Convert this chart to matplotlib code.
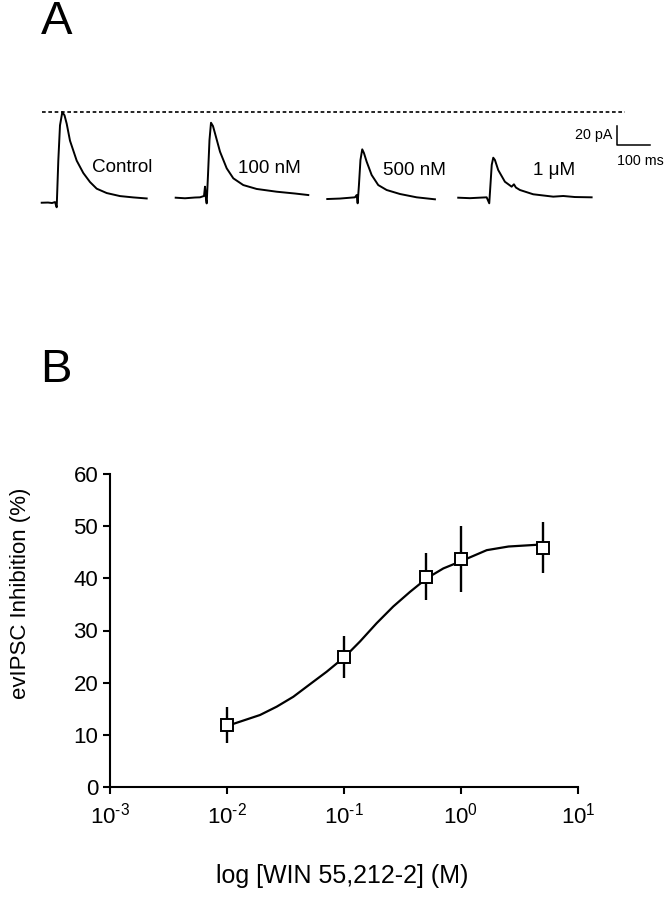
import numpy as np
import matplotlib
matplotlib.use("Agg")
import matplotlib.pyplot as plt
from matplotlib.ticker import NullLocator, FixedFormatter

plt.rcParams['font.family'] = ['Liberation Sans', 'DejaVu Sans']
plt.rcParams['mathtext.fontset'] = 'custom'
plt.rcParams['mathtext.rm'] = 'Liberation Sans'
plt.rcParams['mathtext.it'] = 'Liberation Sans:italic'
plt.rcParams['mathtext.bf'] = 'Liberation Sans:bold'

# panel A: evoked IPSC traces, time (ms) from trace start, current (pA) above baseline
labels_a = ['Control', '100 nM', '500 nM', '1 \u03bcM']
t_ctrl = [0, 19.1, 31.2, 40.3, 45.4, 50.3, 55.4, 62.4, 69.1, 75.7, 85.7, 106.0,
          126.0, 146.3, 166.6, 196.9, 237.2, 277.5, 318.1]
i_ctrl = [0, 0.2, -0.3, 0.7, -4.8, 44.5, 81.4, 95.4, 92.0, 83.2, 65.3, 44.3,
          31.3, 21.8, 14.8, 10.2, 7.0, 5.6, 4.5]
t_100 = [0, 28.2, 58.5, 73.6, 85.8, 88.8, 91.8, 93.9, 97.9, 102.4, 107.0, 113.0,
         119.1, 134.3, 154.6, 174.6, 204.8, 245.4, 306.0, 361.5, 401.8]
i_100 = [0, -0.6, 0.2, 0.4, 1.8, 11.6, -1.4, -6.0, 23.9, 60.7, 78.9, 75.4,
         67.8, 48.4, 30.9, 20.4, 13.3, 9.2, 6.3, 4.4, 2.8]
t_500 = [0, 38.5, 83.9, 89.1, 92.1, 96.0, 100.6, 106.0, 111.2, 119.4, 134.5,
         154.5, 180.0, 220.3, 270.9, 326.3]
i_500 = [0, 0.5, 1.8, 4.2, -4.5, 14.7, 41.1, 52.3, 48.4, 39.3, 25.3,
         14.7, 9.5, 5.3, 1.8, -0.3]
t_1u = [0, 35.5, 86.1, 94.0, 97.6, 101.5, 106.1, 111.2, 121.2, 141.4, 161.8,
        168.8, 174.8, 187.0, 227.2, 287.9, 318.2, 353.6, 404.2]
i_1u = [0, -0.5, 0.4, -5.9, 13.4, 34.5, 42.1, 39.7, 29.1, 16.8, 11.6,
        14.1, 10.7, 8.1, 3.6, 1.1, 1.8, 0.7, 0.4]
traces = [(t_ctrl, i_ctrl), (t_100, i_100), (t_500, i_500), (t_1u, i_1u)]

# panel B: concentration-response
conc = [0.01, 0.1, 0.5, 1.0, 5.0]
inhib = [11.9, 24.9, 40.3, 43.7, 45.9]
inhib_err = [3.5, 4.05, 4.5, 6.3, 4.85]
fit_logx = [-2.0, -1.946, -1.718, -1.575, -1.433, -1.291, -1.148, -0.991, -0.863,
            -0.721, -0.579, -0.436, -0.293, -0.151, -0.009, 0.22, 0.406, 0.70]
fit_y = [11.8, 12.1, 13.8, 15.4, 17.3, 19.7, 22.1, 25.0, 27.9,
         31.4, 34.6, 37.4, 40.0, 41.9, 43.2, 45.4, 46.1, 46.5]
xtick_exp = ['-3', '-2', '-1', '0', '1']

W, H = 666, 899
fig = plt.figure(figsize=(W / 100, H / 100), dpi=100)

# ---- panel A ----
ax_a = fig.add_axes([0, 1 - 230 / H, 1, 230 / H])
ax_a.set_xlim(0, 2018.2)
ax_a.set_ylim(-28.7, 213.4)
ax_a.axis('off')

t0 = [126.4, 532.4, 991.7, 1388.6]
i0 = [0, 5.3, 3.9, 5.3]
lab_x = [277.9, 722.0, 1161.0, 1616.0]
lab_y = [37.3, 36.2, 34.4, 34.4]
for (t, i), dx, dy, lab, lx, ly in zip(traces, t0, i0, labels_a, lab_x, lab_y):
    ax_a.plot(np.array(t) + dx, np.array(i) + dy, color='black', lw=1.4)
    ax_a.text(lx, ly, lab, fontsize=13.6, ha='left', va='center')

peak = max(i_ctrl)
ax_a.plot([128.5, 1893.8], [peak, peak], color='black', lw=1.2,
          linestyle=(0, (2.2, 1.6)))

# scale bar 20 pA / 100 ms
sx, sy = 1871, 60.8
ax_a.plot([sx, sx, sx + 100], [sy + 20, sy, sy], color='black', lw=1.1)
ax_a.text(sx - 15, sy + 10, '20 pA', fontsize=10.3, ha='right', va='center')
ax_a.text(sx + 71, sy - 17, '100 ms', fontsize=10.3, ha='center', va='center')

fig.text(56.7 / W, 1 - 22 / H, 'A', fontsize=34, ha='center', va='center')
fig.text(55.5 / W, 1 - 369.5 / H, 'B', fontsize=34, ha='center', va='center')

# ---- panel B ----
left, right, top, bottom = 110, 578, 474, 787
ax_b = fig.add_axes([left / W, 1 - bottom / H, (right - left) / W, (bottom - top) / H])
ax_b.set_xscale('log')
ax_b.set_xlim(1e-3, 1e1)
ax_b.set_ylim(0, 60)
ax_b.set_xticks([1e-3, 1e-2, 1e-1, 1e0, 1e1])
ax_b.xaxis.set_minor_locator(NullLocator())
ax_b.xaxis.set_major_formatter(FixedFormatter(
    ['$10^{\\mathrm{%s}}$' % e.replace('-', '\u2010') for e in xtick_exp]))
ax_b.set_yticks(range(0, 61, 10))
for s in ['top', 'right']:
    ax_b.spines[s].set_visible(False)
for s in ['left', 'bottom']:
    ax_b.spines[s].set_linewidth(1.5)
ax_b.tick_params(direction='out', length=5, width=1.5, labelsize=16)
ax_b.tick_params(axis='x', pad=6)
ax_b.tick_params(axis='y', pad=3.5)
ax_b.patch.set_alpha(0)

ax_b.plot(10 ** np.array(fit_logx), fit_y, color='black', lw=1.6, zorder=2)
ax_b.errorbar(conc, inhib, yerr=inhib_err, fmt='s', ms=8.5, mfc='white', mec='black',
              mew=1.4, ecolor='black', elinewidth=1.7, capsize=0, zorder=3,
              clip_on=False)

fig.text(21 / W, 1 - 593 / H, 'evIPSC Inhibition (%)', fontsize=16, rotation=90,
         ha='center', va='center')
fig.text(342 / W, 1 - 876 / H, 'log [WIN 55,212-2] (M)', fontsize=18,
         ha='center', va='center')

fig.savefig('out.png', dpi=100)
